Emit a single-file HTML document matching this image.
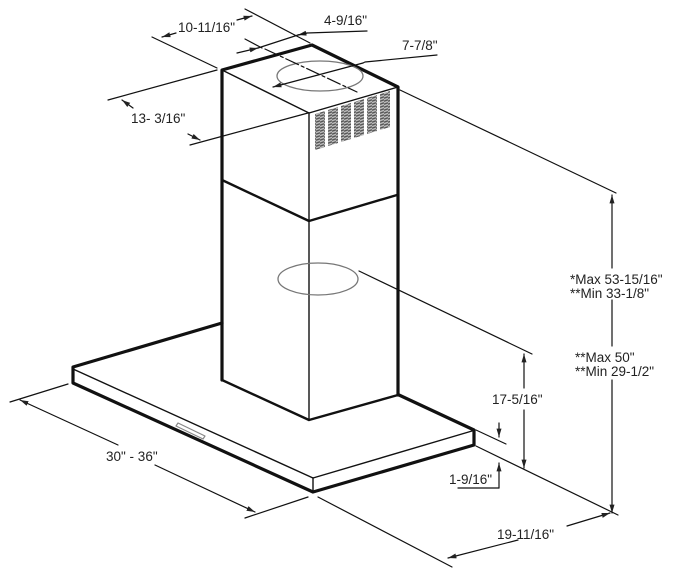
<!DOCTYPE html>
<html><head><meta charset="utf-8"><style>
html,body{margin:0;padding:0;background:#fff;}
svg{display:block;}
text{font-family:"Liberation Sans",Arial,sans-serif;font-size:13.5px;fill:#222;}
</style></head><body>
<svg width="680" height="576" viewBox="0 0 680 576" xmlns="http://www.w3.org/2000/svg">
<defs>
<marker id="a" viewBox="0 0 10 10" refX="10" refY="5" markerWidth="7" markerHeight="7" orient="auto-start-reverse"><path d="M0,2 L10,5 L0,8 z" fill="#222"/></marker>
<pattern id="v" width="4" height="3" patternUnits="userSpaceOnUse"><rect width="4" height="3" fill="#bbb"/><path d="M0,2.2 L4,0.8" stroke="#555" stroke-width="1.3"/></pattern>
</defs>
<g stroke="#111" fill="none" stroke-linecap="round" stroke-linejoin="round">
<!-- hood -->
<path d="M222,323 L73,367 L73,383 L313,492 L474,445 L474,430 L399,395" stroke-width="3.2"/>
<path d="M73,369 L313,478 L472,431" stroke-width="1.4"/>
<path d="M313,478 L313,492" stroke-width="1.4"/>
<path d="M178,423 L205,436 L203,439 L176,426 z" stroke="#888" stroke-width="1.2"/>
<!-- chimney -->
<path d="M222,380 L222,70 L312,45 L398,87 L398,395" stroke-width="3.2"/>
<path d="M222,70 L309,113 L398,87" stroke-width="1.4"/>
<path d="M309,113 L309,420" stroke-width="1.4"/>
<path d="M222,180 L309,221 L397,195" stroke-width="2.4"/>
<path d="M222,380 L309,420 L398,395" stroke-width="2.4"/>
<!-- vents -->
<g fill="url(#v)" stroke="none">
<path d="M315,114 L325,111 L325,147 L315,150 z"/>
<path d="M328,110 L338,107 L338,143 L328,146 z"/>
<path d="M341,106 L351,103 L351,139 L341,142 z"/>
<path d="M354,102 L364,99 L364,135 L354,138 z"/>
<path d="M367,98 L377,95 L377,131 L367,134 z"/>
<path d="M380,94 L390,91 L390,127 L380,130 z"/>
</g>
<!-- ellipses -->
<ellipse cx="320" cy="76" rx="43" ry="15" stroke="#777" stroke-width="1.3"/>
<ellipse cx="318" cy="279" rx="40" ry="16" stroke="#777" stroke-width="1.3"/>
<!-- top dims -->
<g stroke-width="1.2">
<path d="M152,37 L217,68"/>
<path d="M245,9 L310,43"/>
<path d="M176,33 L162,37" marker-end="url(#a)"/>
<path d="M237,20 L252,16" marker-end="url(#a)"/>
<path d="M245,39 L262,48"/>
<path d="M265,49 L357,92" stroke-dasharray="14,3,3,3"/>
<path d="M237,53 L258,48" marker-end="url(#a)"/>
<path d="M258,48 L298,35"/>
<path d="M307,33 L298,35" marker-end="url(#a)"/>
<path d="M298,35 L307,33 L367,31"/>
<path d="M273,87 L363,63" marker-start="url(#a)"/>
<path d="M363,63 L365,62 L437,55"/>
<path d="M108,100 L217,70"/>
<path d="M190,145 L308,113"/>
<path d="M133,108 L122,100" marker-end="url(#a)"/>
<path d="M188,134 L200,140" marker-end="url(#a)"/>
<!-- right dims -->
<path d="M400,90 L616,193"/>
<path d="M612,195 L612,268" marker-start="url(#a)"/>
<path d="M612,300 L612,346"/>
<path d="M612,380 L612,513" marker-end="url(#a)"/>
<path d="M359,271 L532,354"/>
<path d="M524,354 L524,388" marker-start="url(#a)"/>
<path d="M524,410 L524,468" marker-end="url(#a)"/>
<path d="M476,430 L506,444"/>
<path d="M476,446 L618,515"/>
<path d="M499,423 L499,437" marker-end="url(#a)"/>
<path d="M499,488 L499,463" marker-end="url(#a)"/>
<path d="M458,488 L499,488"/>
<path d="M318,497 L452,567"/>
<path d="M610,513 L567,526" marker-start="url(#a)"/>
<path d="M518,540 L448,558" marker-end="url(#a)"/>
<!-- left dims -->
<path d="M68,384 L10,402"/>
<path d="M20,400 L118,445" marker-start="url(#a)"/>
<path d="M155,465 L255,512" marker-end="url(#a)"/>
<path d="M245,518 L308,497"/>
</g>
</g>
<text x="178" y="32">10-11/16"</text>
<text x="324" y="25">4-9/16"</text>
<text x="402" y="50">7-7/8"</text>
<text x="131" y="123">13- 3/16"</text>
<text x="570" y="284">*Max 53-15/16"</text>
<text x="570" y="298">**Min 33-1/8"</text>
<text x="575" y="362">**Max 50"</text>
<text x="575" y="376">**Min 29-1/2"</text>
<text x="492" y="404">17-5/16"</text>
<text x="449" y="484">1-9/16"</text>
<text x="497" y="539">19-11/16"</text>
<text x="106" y="461">30" - 36"</text>
</svg>
</body></html>
